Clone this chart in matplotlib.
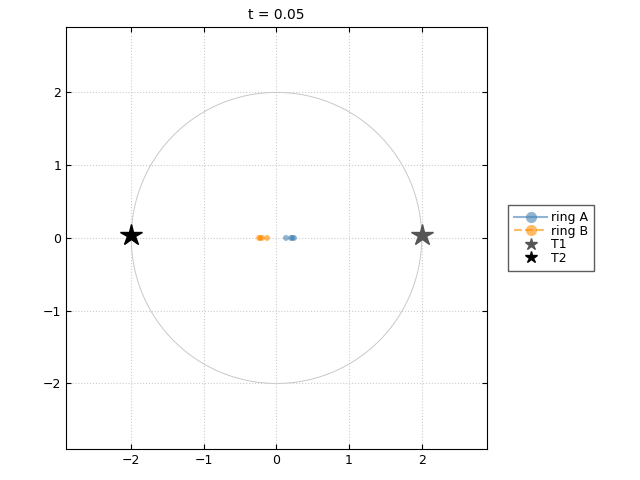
import matplotlib
matplotlib.use("Agg")
import matplotlib.pyplot as plt
import numpy as np

ringA_x = [0.13, 0.20, 0.22, 0.24]
ringA_y = [0.0, 0.0, 0.0, 0.0]
ringB_x = [-0.24, -0.22, -0.20, -0.13]
ringB_y = [0.0, 0.0, 0.0, 0.0]
t1 = (2.0, 0.04)
t2 = (-2.0, 0.04)
title = "t = 0.05"

fig = plt.figure(figsize=(6.4, 4.8), dpi=100)
ax = fig.add_axes([0.103, 0.0646, 0.658, 0.8794])
th = np.linspace(0, 2*np.pi, 400)
ax.plot(2*np.cos(th), 2*np.sin(th), color="#c8c8c8", lw=0.7, zorder=1)
ax.scatter(ringA_x, ringA_y, s=18, color="#4682b4", alpha=0.6, edgecolors="none", zorder=3)
ax.scatter(ringB_x, ringB_y, s=18, color="#ff8c00", alpha=0.6, edgecolors="none", zorder=3)
ax.plot([t1[0]], [t1[1]], marker="*", ms=16, color="#555555", ls="none", zorder=4)
ax.plot([t2[0]], [t2[1]], marker="*", ms=16, color="black", ls="none", zorder=4)

hA, = ax.plot([], [], color="#4682b4", alpha=0.6, marker="o", ms=8, mew=0, ls="-", label="ring A")
hB, = ax.plot([], [], color="#ff8c00", alpha=0.6, marker="o", ms=8, mew=0, ls="--", label="ring B")
h1, = ax.plot([], [], marker="*", ms=9, color="#555555", ls="none", label="T1")
h2, = ax.plot([], [], marker="*", ms=9, color="black", ls="none", label="T2")
leg = ax.legend(handles=[hA, hB, h1, h2], loc="center left", bbox_to_anchor=(1.035, 0.5),
                fancybox=False, edgecolor="#333333", fontsize=9, borderpad=0.5,
                labelspacing=0.05, handlelength=2.6, handletextpad=0.3)
leg.get_frame().set_linewidth(1.0)

ax.set_xlim(-2.9, 2.9)
ax.set_ylim(-2.9, 2.9)
ax.set_xticks([-2, -1, 0, 1, 2])
ax.set_yticks([-2, -1, 0, 1, 2])
ax.set_xticklabels(["\u22122", "\u22121", "0", "1", "2"])
ax.set_yticklabels(["\u22122", "\u22121", "0", "1", "2"])
ax.grid(True, ls=":", color="#cccccc", lw=0.8)
ax.tick_params(direction="in", top=True, right=True, labelsize=9)
ax.set_title(title, fontsize=10)
fig.savefig("out.png", dpi=100)
